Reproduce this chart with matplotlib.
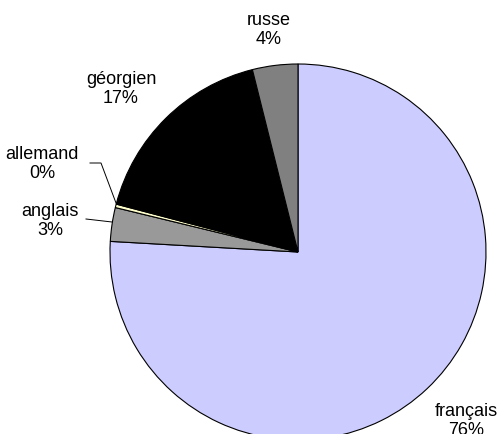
import matplotlib
matplotlib.use('Agg')
import matplotlib.pyplot as plt

plt.rcParams['font.family'] = ['Liberation Sans', 'DejaVu Sans']

# parts clockwise from 12 o'clock
langues = ['français', 'anglais', 'allemand', 'géorgien', 'russe']
parts = [75.9, 2.9, 0.3, 17.0, 3.9]
pourcent = ['76%', '3%', '0%', '17%', '4%']
couleurs = ['#CCCCFF', '#999999', '#FFFFCC', '#000000', '#808080']

# label anchors in pixels of the 501x434 picture
cx, cy, r = 298, 252, 188
lab_px = [(466, 421), (50, 221), (42, 164), (121, 89), (269, 30)]


def px2data(p):
    return ((p[0] - cx) / r, (cy - p[1]) / r)


fig = plt.figure(figsize=(5.01, 4.34), dpi=100)
ax = fig.add_axes([(cx - r) / 501, (434 - cy - r) / 434, 2 * r / 501, 2 * r / 434])
ax.pie(parts, colors=couleurs, startangle=90, counterclock=False, radius=1,
       wedgeprops=dict(edgecolor='black', linewidth=0.8))
ax.set_xlim(-1, 1)
ax.set_ylim(-1, 1)
ax.set_aspect('equal')
ax.axis('off')

for nom, pc, p in zip(langues, pourcent, lab_px):
    x, y = px2data(p)
    ax.text(x, y, nom + '\n' + pc, ha='center', va='center', fontsize=13,
            linespacing=1.1, clip_on=False)

# leader lines (allemand, anglais)
for pts in ([(90, 163), (101, 163), (116, 203)], [(86, 219), (112, 222)]):
    xs, ys = zip(*[px2data(q) for q in pts])
    ax.plot(xs, ys, color='black', linewidth=0.7, clip_on=False)

fig.savefig('out.png', dpi=100)
